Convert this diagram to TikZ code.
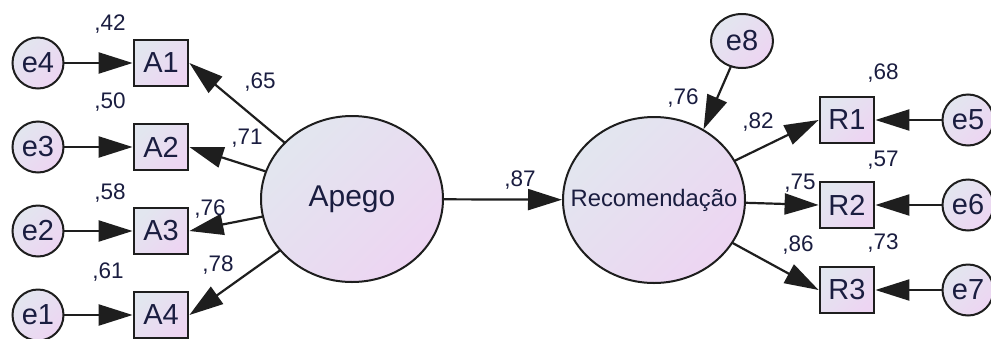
\documentclass[tikz,border=0pt]{standalone}
\usepackage{fontspec}
\setmainfont{Liberation Sans}
\usetikzlibrary{arrows.meta,shapes.geometric}

\begin{document}
\begin{tikzpicture}
	[x=1pt,y=-1pt,line cap=round,
	%Styles
	shaded/.style={top color=shadetop,bottom color=shadebot,shading angle=45},
	latent/.style={ellipse,draw=linecolor,line width=2pt,shaded,minimum width=182pt,minimum height=166pt,inner sep=0pt,text=textcolor},
	error/.style={ellipse,draw=linecolor,line width=2pt,shaded,minimum width=51pt,minimum height=51pt,inner sep=0pt,text=textcolor,font=\fontsize{29}{29}\selectfont},
	observed/.style={rectangle,draw=linecolor,line width=2.8pt,shaded,minimum width=54pt,minimum height=46pt,inner sep=0pt,text=textcolor,font=\fontsize{29}{29}\selectfont},
	path arrow/.style={draw=linecolor,line width=2.2pt,-{Triangle[length=34pt,width=21pt]}},
	coef/.style={text=textcolor,inner sep=0pt,font=\fontsize{22.5}{22.5}\selectfont}
	]
	
	%Colors
	\definecolor{shadetop}{HTML}{E2E6EF}	%upper left of the fills
	\definecolor{shadebot}{HTML}{EDD5F2}	%lower right of the fills
	\definecolor{linecolor}{HTML}{1E1E1E}
	\definecolor{textcolor}{HTML}{1A1D40}
	
	\fill[white] (0,0) rectangle (991,338);
	\useasboundingbox (0,0) rectangle (991,338);
	
	%The graphic
	\node[latent,font=\fontsize{30}{30}\selectfont] (apego) at (352,199) {Apego};
	\node[latent,inner xsep=-30pt,font=\fontsize{23.8}{23.8}\selectfont] (reco) at (654,200) {Recomendação};
	
	\node[observed] (A1) at (161,63) {A1};
	\node[observed] (A2) at (161,147) {A2};
	\node[observed] (A3) at (161,231) {A3};
	\node[observed] (A4) at (161,315) {A4};
	
	\node[error] (e4) at (38,63) {e4};
	\node[error] (e3) at (38,147) {e3};
	\node[error] (e2) at (38,231) {e2};
	\node[error] (e1) at (38,315) {e1};
	
	\node[observed] (R1) at (847,120) {R1};
	\node[observed] (R2) at (847,205) {R2};
	\node[observed] (R3) at (847,290) {R3};
	
	\node[error] (e5) at (968,120) {e5};
	\node[error] (e6) at (968,205) {e6};
	\node[error] (e7) at (968,290) {e7};
	
	\node[error,minimum width=62pt,minimum height=54pt] (e8) at (742,41) {e8};
	
	\draw[path arrow] (e4) -- (A1);
	\draw[path arrow] (e3) -- (A2);
	\draw[path arrow] (e2) -- (A3);
	\draw[path arrow] (e1) -- (A4);
	
	\draw[path arrow] (apego) -- (A1.east);
	\draw[path arrow] (apego) -- (A2.east);
	\draw[path arrow] (apego) -- (A3.east);
	\draw[path arrow] (apego) -- (A4.east);
	
	\draw[path arrow] (apego) -- (reco);
	\draw[path arrow] (e8) -- (reco.55);
	
	\draw[path arrow] (reco) -- (R1.west);
	\draw[path arrow] (reco) -- (R2.west);
	\draw[path arrow] (reco) -- (R3.west);
	
	\draw[path arrow] (e5) -- (R1);
	\draw[path arrow] (e6) -- (R2);
	\draw[path arrow] (e7) -- (R3);
	
	%Coefficients
	\node[coef] (c42) at (110,24) {,42};
	\node[coef] (c50) at (110,102) {,50};
	\node[coef] (c58) at (110,193) {,58};
	\node[coef] (c61) at (108,272) {,61};
	\node[coef] (c65) at (260,82) {,65};
	\node[coef] (c71) at (247,138) {,71};
	\node[coef] (c76a) at (210,209) {,76};
	\node[coef] (c78) at (218,265) {,78};
	\node[coef] (c87) at (520,180) {,87};
	\node[coef] (c76b) at (683,98) {,76};
	\node[coef] (c82) at (758,122) {,82};
	\node[coef] (c75) at (800,183) {,75};
	\node[coef] (c86) at (798,245) {,86};
	\node[coef] (c68) at (883,73) {,68};
	\node[coef] (c57) at (883,160) {,57};
	\node[coef] (c73) at (883,243) {,73};
\end{tikzpicture}
\end{document}
